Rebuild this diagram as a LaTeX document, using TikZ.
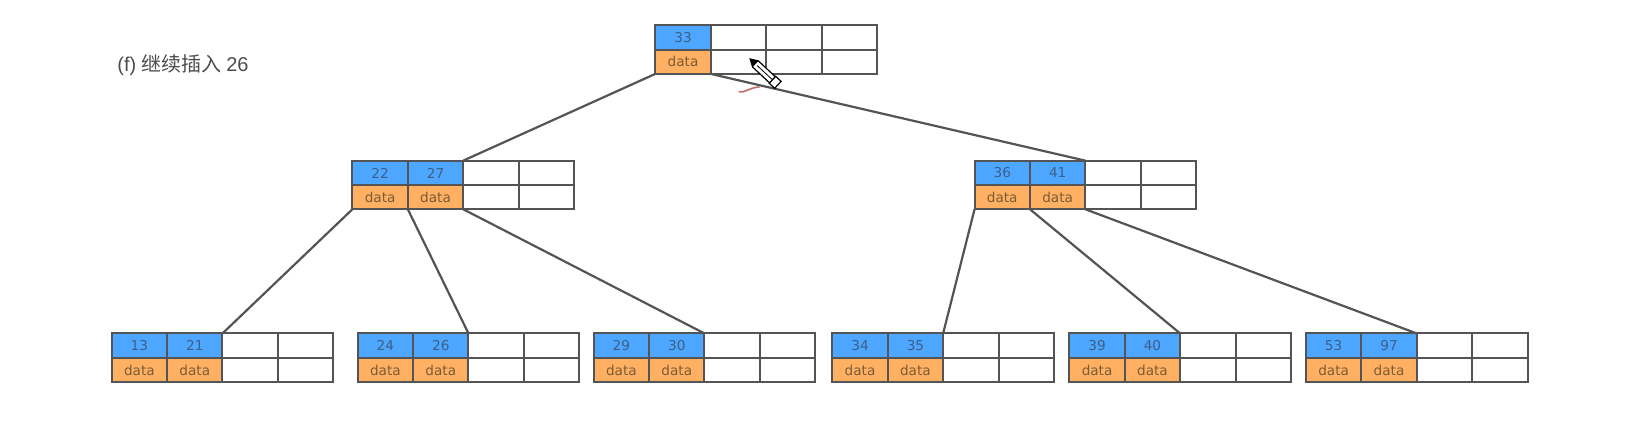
\documentclass[tikz,border=0pt]{standalone}
\usepackage{fontspec}
\setmainfont{DejaVu Sans}
\newfontfamily\labelfont{Liberation Sans}
\newfontfamily\cjk{Noto Sans CJK SC}
\usetikzlibrary{positioning}
\definecolor{keyblue}{HTML}{4DA6FF}
\definecolor{dataorange}{HTML}{FFB063}
\definecolor{linegray}{HTML}{545454}
\definecolor{keytext}{HTML}{3D5F85}
\definecolor{datatext}{HTML}{7A5C35}
\newcommand{\btnode}[4]{%
	\node[keycell, fill=keyblue] (#1-a) at (#2) {#3};
	\node[datacell, fill=dataorange] (#1-da) [below=0pt of #1-a] {data};
	\if\relax\detokenize{#4}\relax
		\node[keycell] (#1-b) [right=0pt of #1-a] {};
		\node[datacell] (#1-db) [below=0pt of #1-b] {};
	\else
		\node[keycell, fill=keyblue] (#1-b) [right=0pt of #1-a] {#4};
		\node[datacell, fill=dataorange] (#1-db) [below=0pt of #1-b] {data};
	\fi
	\node[keycell] (#1-c) [right=0pt of #1-b] {};
	\node[datacell] (#1-dc) [below=0pt of #1-c] {};
	\node[keycell] (#1-d) [right=0pt of #1-c] {};
	\node[datacell] (#1-dd) [below=0pt of #1-d] {};
}

\begin{document}
\begin{tikzpicture}[x=0.5268pt, y=-0.5268pt]
	\tikzstyle{keycell}=[rectangle, anchor=north west, minimum width=27.7pt, minimum height=12.3pt, inner sep=0pt, outer sep=0pt, line width=1pt, draw=linegray, font=\fontsize{6.8}{8}\selectfont, text=keytext]
	\tikzstyle{datacell}=[keycell, minimum height=12pt, text=datatext]
	\tikzstyle{connect}=[line width=1.1pt, draw=linegray]
	\useasboundingbox (0,0) rectangle (1568,406.2);
	\node[anchor=west, inner sep=0pt, text=black!70, font=\fontsize{10}{12}\selectfont] (caption) at (111,62) {\labelfont (f) \cjk 继续插入 \labelfont 26};
	% root
	\btnode{root}{622,24}{33}{}
	% second level
	\btnode{left}{334.5,152.5}{22}{27}
	\btnode{right}{925,152.5}{36}{41}
	% leaves
	\btnode{leafa}{106,316.5}{13}{21}
	\btnode{leafb}{339.5,316.5}{24}{26}
	\btnode{leafc}{563.5,316.5}{29}{30}
	\btnode{leafd}{790,316.5}{34}{35}
	\btnode{leafe}{1015,316.5}{39}{40}
	\btnode{leaff}{1239.5,316.5}{53}{97}
	\path (root-da.south west) edge [connect] (left-b.north east)
	(root-da.south east) edge [connect] (right-b.north east)
	(left-da.south west) edge [connect] (leafa-b.north east)
	(left-da.south east) edge [connect] (leafb-b.north east)
	(left-db.south east) edge [connect] (leafc-b.north east)
	(right-da.south west) edge [connect] (leafd-b.north east)
	(right-da.south east) edge [connect] (leafe-b.north east)
	(right-db.south east) edge [connect] (leaff-b.north east);
	% pen mark and cursor
	\draw[line width=0.8pt, draw=red!45!gray!80] (701,87) .. controls (706,89) and (711,83) .. (721,82.5);
	\begin{scope}[shift={(712,56)}, rotate=-43]
		\draw[line width=0.6pt, fill=white] (7,-4) -- (29,-4) -- (29,4) -- (7,4) -- (0,0) -- cycle;
		\fill[black] (0,0) -- (7,-3.5) -- (7,3.5) -- cycle;
		\draw[line width=0.6pt, fill=white] (29,-4.5) rectangle (36,4.5);
		\draw[line width=0.4pt] (9,0) -- (29,0);
	\end{scope}
\end{tikzpicture}
\end{document}
